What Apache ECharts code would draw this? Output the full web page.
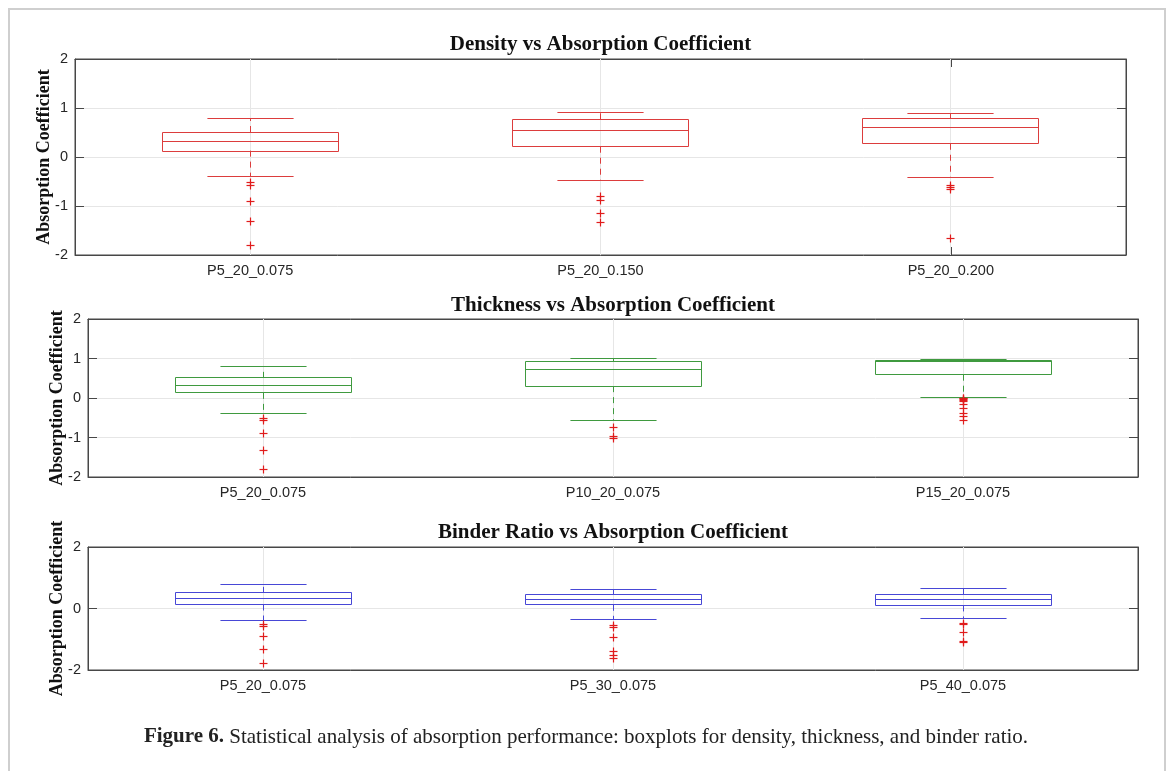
<!DOCTYPE html>
<html><head><meta charset="utf-8">
<script src="https://cdn.jsdelivr.net/npm/echarts@6/dist/echarts.min.js"></script>
<style>html,body{margin:0;padding:0;background:#fff}#c{width:1171px;height:771px}</style>
</head><body><div id="c"></div>
<script>
// ---- data (box rows: [lowerWhisker, Q1, median, Q3, upperWhisker]) ----
const densityCategories = ['P5_20_0.075', 'P5_20_0.150', 'P5_20_0.200'];
const densityBoxes = [
  [-0.39, 0.13, 0.32, 0.51, 0.79],
  [-0.48, 0.21, 0.55, 0.77, 0.90],
  [-0.42, 0.27, 0.61, 0.78, 0.88]
];
const densityOutliers = [
  [-0.52, -0.58, -0.90, -1.32, -1.80],
  [-0.81, -0.88, -1.15, -1.33],
  [-0.58, -0.62, -0.66, -1.67]
];

const thicknessCategories = ['P5_20_0.075', 'P10_20_0.075', 'P15_20_0.075'];
const thicknessBoxes = [
  [-0.39, 0.13, 0.32, 0.51, 0.79],
  [-0.57, 0.30, 0.71, 0.93, 0.99],
  [0.02, 0.59, 0.93, 0.95, 0.98]
];
const thicknessOutliers = [
  [-0.52, -0.58, -0.90, -1.32, -1.80],
  [-0.74, -0.98, -1.03],
  [0.00, -0.02, -0.04, -0.06, -0.08, -0.17, -0.27, -0.38, -0.46, -0.57]
];

const binderCategories = ['P5_20_0.075', 'P5_30_0.075', 'P5_40_0.075'];
const binderBoxes = [
  [-0.39, 0.13, 0.32, 0.51, 0.79],
  [-0.35, 0.12, 0.29, 0.45, 0.63],
  [-0.34, 0.10, 0.28, 0.45, 0.65]
];
const binderOutliers = [
  [-0.52, -0.58, -0.90, -1.32, -1.80],
  [-0.54, -0.63, -0.94, -1.41, -1.52, -1.62],
  [-0.49, -0.52, -0.79, -1.07, -1.12]
];

const panelTitles = ['Density vs Absorption Coefficient', 'Thickness vs Absorption Coefficient', 'Binder Ratio vs Absorption Coefficient'];
const yAxisName = 'Absorption Coefficient';
const captionBold = 'Figure 6.';
const captionText = ' Statistical analysis of absorption performance: boxplots for density, thickness, and binder ratio.';

// ---- layout / style ----
const panels = [
  { title: panelTitles[0], cats: densityCategories, boxes: densityBoxes, outliers: densityOutliers,
    color: '#dc3d3d', grid: { left: 75, top: 59, width: 1051, height: 196 }, interval: 1, titleY: 45 },
  { title: panelTitles[1], cats: thicknessCategories, boxes: thicknessBoxes, outliers: thicknessOutliers,
    color: '#3f9a3f', grid: { left: 88, top: 319, width: 1050, height: 158 }, interval: 1, titleY: 306 },
  { title: panelTitles[2], cats: binderCategories, boxes: binderBoxes, outliers: binderOutliers,
    color: '#4747d6', grid: { left: 88, top: 547, width: 1050, height: 123 }, interval: 2, titleY: 533 }
];
const outlierColor = '#e01c1c';
const frameColor = '#474747';
const gridColor = '#e6e6e6';
const crisp = v => Math.round(v - 0.5) + 0.5;

const grids = [], xAxes = [], yAxes = [], series = [], graphics = [];

panels.forEach((p, i) => {
  grids.push(Object.assign({ show: true, borderColor: frameColor, borderWidth: 1, backgroundColor: 'transparent' }, p.grid));
  const xBase = {
    gridIndex: i, type: 'category', data: p.cats, boundaryGap: true,
    axisLine: { show: true, onZero: false, lineStyle: { color: frameColor, width: 1 } },
    axisTick: { show: true, inside: true, alignWithLabel: true, length: 8, lineStyle: { color: frameColor } },
    splitLine: { show: false }
  };
  xAxes.push(Object.assign({}, xBase, { position: 'bottom',
    axisLabel: { color: '#262626', fontSize: 14.5, fontFamily: 'Liberation Sans', margin: 8 } }));
  xAxes.push(Object.assign({}, xBase, { position: 'top', axisLabel: { show: false } }));
  const yBase = {
    gridIndex: i, type: 'value', min: -2, max: 2, interval: p.interval,
    axisLine: { show: true, onZero: false, lineStyle: { color: frameColor, width: 1 } },
    axisTick: { show: true, inside: true, length: 9, lineStyle: { color: frameColor } }
  };
  yAxes.push(Object.assign({}, yBase, { position: 'left',
    axisLabel: { color: '#262626', fontSize: 14.5, fontFamily: 'Liberation Sans', margin: 7 },
    splitLine: { show: true, lineStyle: { color: gridColor, width: 1 } },
    name: yAxisName, nameLocation: 'middle', nameGap: 22, nameMoveOverlap: false,
    nameTextStyle: { fontFamily: 'Liberation Serif', fontWeight: 'bold', fontSize: 18, color: '#111' } }));
  yAxes.push(Object.assign({}, yBase, { position: 'right', axisLabel: { show: false }, splitLine: { show: false } }));

  const color = p.color;
  series.push({
    type: 'custom', xAxisIndex: 2 * i, yAxisIndex: 2 * i,
    encode: { x: 0, y: [1, 2, 3, 4, 5] },
    data: p.boxes.map((b, k) => [k].concat(b)),
    renderItem: function (params, api) {
      const idx = api.value(0);
      const band = api.size([1, 0])[0];
      const hb = band * 0.251, hc = band * 0.123;
      const pLo = api.coord([idx, api.value(1)]);
      const pQ1 = api.coord([idx, api.value(2)]);
      const pMd = api.coord([idx, api.value(3)]);
      const pQ3 = api.coord([idx, api.value(4)]);
      const pHi = api.coord([idx, api.value(5)]);
      const cx = crisp(pLo[0]);
      const cs = params.coordSys;
      const st = { stroke: color, lineWidth: 1, fill: 'none' };
      const dash = { stroke: color, lineWidth: 1, lineDash: [6, 5] };
      return {
        type: 'group', children: [
          { type: 'line', shape: { x1: cx, y1: cs.y, x2: cx, y2: cs.y + cs.height }, style: { stroke: gridColor, lineWidth: 1 } },
          { type: 'line', shape: { x1: cx, y1: pQ3[1], x2: cx, y2: pHi[1] }, style: dash },
          { type: 'line', shape: { x1: cx, y1: pQ1[1], x2: cx, y2: pLo[1] }, style: dash },
          { type: 'line', shape: { x1: cx - hc, y1: crisp(pHi[1]), x2: cx + hc, y2: crisp(pHi[1]) }, style: st },
          { type: 'line', shape: { x1: cx - hc, y1: crisp(pLo[1]), x2: cx + hc, y2: crisp(pLo[1]) }, style: st },
          { type: 'rect', shape: { x: crisp(cx - hb), y: crisp(pQ3[1]), width: Math.round(2 * hb), height: Math.round(pQ1[1] - pQ3[1]) }, style: st },
          { type: 'line', shape: { x1: cx - hb, y1: crisp(pMd[1]), x2: cx + hb, y2: crisp(pMd[1]) }, style: st }
        ]
      };
    }
  });
  const od = [];
  p.outliers.forEach((arr, k) => arr.forEach(v => od.push([k, v])));
  series.push({
    type: 'custom', xAxisIndex: 2 * i, yAxisIndex: 2 * i,
    encode: { x: 0, y: 1 }, data: od, z: 3,
    renderItem: function (params, api) {
      const pt = api.coord([api.value(0), api.value(1)]);
      const x = crisp(pt[0]), y = crisp(pt[1]), h = 4;
      const s = { stroke: outlierColor, lineWidth: 1.2 };
      return { type: 'group', children: [
        { type: 'line', shape: { x1: x - h, y1: y, x2: x + h, y2: y }, style: s },
        { type: 'line', shape: { x1: x, y1: y - h, x2: x, y2: y + h }, style: s }
      ] };
    }
  });

  graphics.push({ type: 'text', x: p.grid.left + p.grid.width / 2, y: p.titleY,
    style: { text: p.title, align: 'center', verticalAlign: 'middle', fontFamily: 'Liberation Serif',
      fontWeight: 'bold', fontSize: 21, fill: '#111' } });
});

graphics.push({ type: 'rect', shape: { x: 9, y: 9, width: 1156, height: 800 },
  style: { fill: 'none', stroke: '#cfcfcf', lineWidth: 2 }, silent: true });
graphics.push({ type: 'text', x: 586, y: 737,
  style: { text: '{b|' + captionBold + '}' + captionText, align: 'center', verticalAlign: 'middle',
    fontFamily: 'Liberation Serif', fontSize: 21, fill: '#222',
    rich: { b: { fontFamily: 'Liberation Serif', fontSize: 21, fontWeight: 'bold', fill: '#222' } } } });

const chart = echarts.init(document.getElementById('c'), null, { renderer: 'canvas' });
chart.setOption({
  animation: false,
  backgroundColor: '#fff',
  grid: grids, xAxis: xAxes, yAxis: yAxes, series: series, graphic: graphics
});
</script></body></html>
